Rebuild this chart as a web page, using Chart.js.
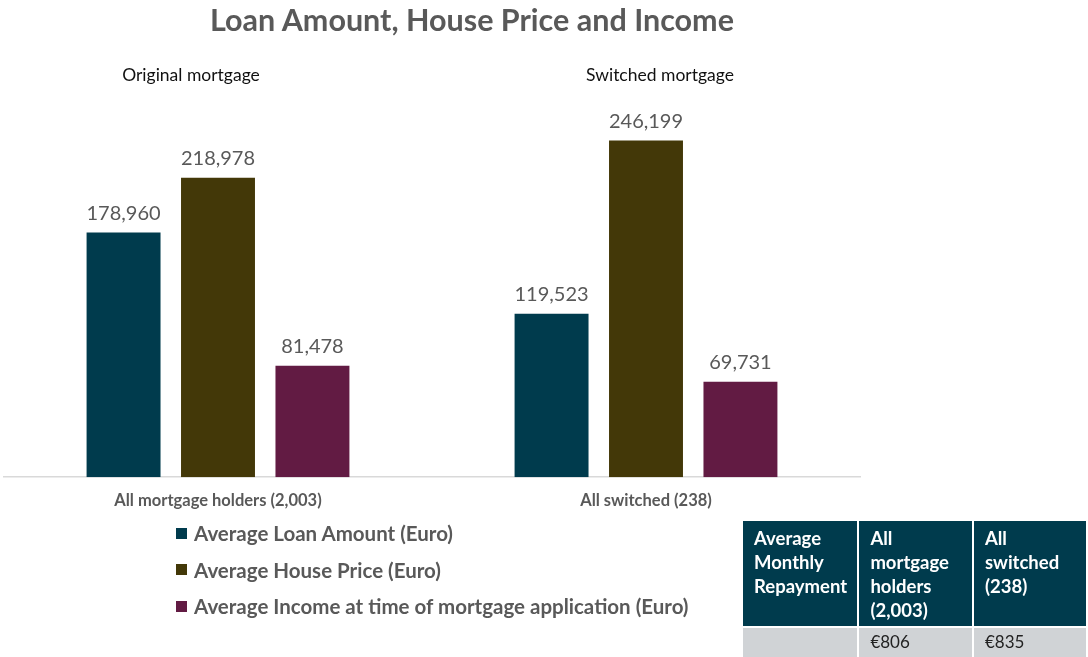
<!DOCTYPE html>
<html>
<head>
<meta charset="utf-8">
<script src="https://cdn.jsdelivr.net/npm/chart.js@4"></script>
<style>
  html, body { margin: 0; padding: 0; background: #fff; }
  body { width: 1088px; height: 657px; position: relative; overflow: hidden; font-family: Lato, "Open Sans", sans-serif; }
  #wrap { position: absolute; left: 0; top: 0; width: 1088px; height: 657px; }
  .title { position: absolute; left: 172px; width: 600px; top: 1px; text-align: center; font-size: 30.5px; font-weight: bold; color: #595959; }
  .sub { position: absolute; top: 64px; width: 220px; text-align: center; font-size: 17.5px; color: #111; }
  #legend { position: absolute; left: 176px; top: 515px; }
  #legend div { height: 36.5px; display: flex; align-items: center; font-size: 20.5px; font-weight: bold; color: #595959; }
  #legend span.box { display: inline-block; width: 11px; height: 11px; margin-right: 7px; }
  table { position: absolute; left: 741px; top: 519px; border-collapse: collapse; font-size: 18.5px; }
  td { border: 2px solid #fff; vertical-align: top; padding: 5px 6px 4px 11px; line-height: 24px; white-space: nowrap; }
  tr.head td { background: #003b4d; color: #fff; font-weight: bold; height: 96px; }
  tr.vals td { background: #d0d3d6; color: #222; font-size: 17px; padding-top: 2px; padding-bottom: 1px; height: 26px; }
</style>
</head>
<body>
<div id="wrap"><canvas id="chart" width="1088" height="657"></canvas></div>
<div class="title">Loan Amount, House Price and Income</div>
<div class="sub" style="left:81px">Original mortgage</div>
<div class="sub" style="left:550px">Switched mortgage</div>
<div id="legend"></div>
<table id="repay"></table>
<script>
// categories and series
const categories = ["All mortgage holders (2,003)", "All switched (238)"];
const seriesNames = [
  "Average Loan Amount (Euro)",
  "Average House Price (Euro)",
  "Average Income at time of mortgage application (Euro)"
];
const loanAmount = [178960, 119523];
const housePrice = [218978, 246199];
const income = [81478, 69731];
const seriesColors = ["#003b4d", "#433808", "#621b43"];

// small table under the chart
const tableHeaders = [
  ["Average", "Monthly", "Repayment"],
  ["All", "mortgage", "holders", "(2,003)"],
  ["All", "switched", "(238)"]
];
const repayments = ["", "€806", "€835"];

// draws the value above each bar
const barLabels = {
  id: "barLabels",
  afterDatasetsDraw(chart) {
    const ctx = chart.ctx;
    ctx.save();
    ctx.font = "20px Lato, 'Open Sans', sans-serif";
    ctx.fillStyle = "#595959";
    ctx.textAlign = "center";
    ctx.textBaseline = "bottom";
    chart.data.datasets.forEach(function (ds, i) {
      chart.getDatasetMeta(i).data.forEach(function (bar, j) {
        ctx.fillText(ds.data[j].toLocaleString("en-US"), bar.x, bar.y - 9);
      });
    });
    ctx.restore();
  }
};

const ctx = document.getElementById("chart").getContext("2d");
const chart = new Chart(ctx, {
  type: "bar",
  data: {
    labels: categories,
    datasets: [loanAmount, housePrice, income].map(function (vals, i) {
      return {
        label: seriesNames[i],
        data: vals,
        backgroundColor: seriesColors[i],
        categoryPercentage: 0.662,
        barPercentage: 0.783
      };
    })
  },
  options: {
    responsive: false,
    animation: false,
    layout: { padding: { left: 4, right: 228, top: 67, bottom: 132 } },
    plugins: {
      legend: { display: false },
      tooltip: { enabled: false }
    },
    scales: {
      x: {
        grid: { display: false, drawTicks: false },
        border: { color: "#d9d9d9", width: 1.5 },
        ticks: {
          padding: 14,
          color: "#595959",
          font: { family: "Lato, 'Open Sans', sans-serif", size: 16.5, weight: "bold" }
        }
      },
      y: {
        display: false,
        min: 0,
        max: 300000
      }
    }
  },
  plugins: [barLabels]
});

// legend built from the series
const legend = document.getElementById("legend");
seriesNames.forEach(function (name, i) {
  const row = document.createElement("div");
  row.innerHTML = '<span class="box" style="background:' + seriesColors[i] + '"></span>' + name;
  legend.appendChild(row);
});

// repayment table
const table = document.getElementById("repay");
const head = document.createElement("tr");
head.className = "head";
tableHeaders.forEach(function (lines) {
  const td = document.createElement("td");
  td.style.width = "98px";
  td.innerHTML = lines.join("<br>");
  head.appendChild(td);
});
table.appendChild(head);
const vals = document.createElement("tr");
vals.className = "vals";
repayments.forEach(function (v) {
  const td = document.createElement("td");
  td.textContent = v;
  vals.appendChild(td);
});
table.appendChild(vals);
</script>
</body>
</html>
